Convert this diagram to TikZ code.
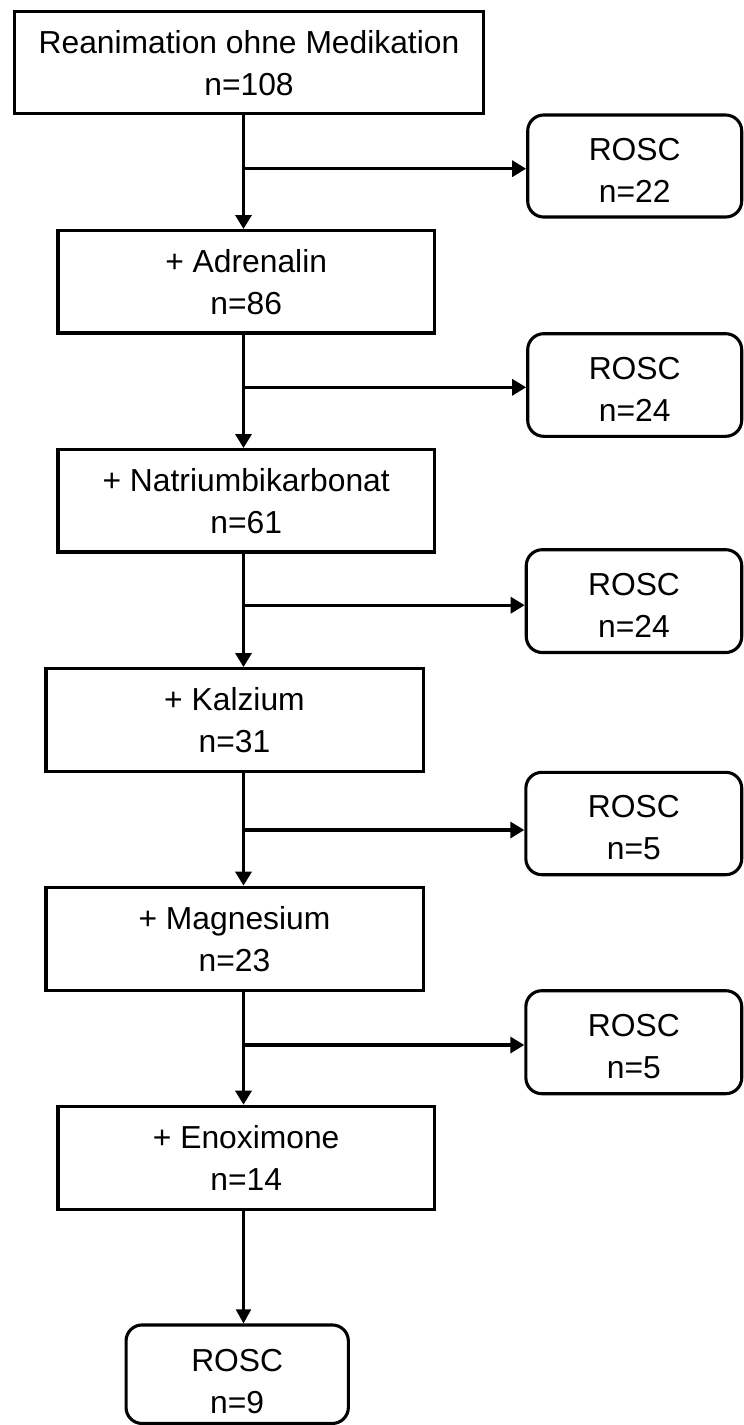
\documentclass[tikz,border=0pt]{standalone}
\usepackage{fontspec}
\setmainfont{Liberation Sans}
\usetikzlibrary{arrows.meta}
\begin{document}
\begin{tikzpicture}[x=1pt,y=-1pt,
  box/.style={font=\fontsize{31.8}{42}\selectfont, align=center, inner sep=0pt, draw, line width=3.3pt},
  stagebox/.style={box, rectangle},
  roscbox/.style={box, line width=3.1pt, rounded corners=16pt, text height=73pt},
  flow/.style={line width=3.3pt, -{Triangle[length=14pt,width=16pt]}},
  thinflow/.style={line width=2.1pt, -{Triangle[length=14pt,width=15pt]}}
]
\useasboundingbox (0,0) rectangle (744,1425);
% main column
\node[stagebox, minimum width=469pt, minimum height=102pt] (s0) at (249,62.7) {Reanimation ohne Medikation\\n=108};
\node[stagebox, minimum width=376.3pt, minimum height=102.3pt] (s1) at (246.2,281.8) {+ Adrenalin\\n=86};
\node[stagebox, minimum width=376.3pt, minimum height=102.3pt] (s2) at (246.2,500.8) {+ Natriumbikarbonat\\n=61};
\node[stagebox, minimum width=377.3pt, minimum height=102.6pt] (s3) at (234.5,720) {+ Kalzium\\n=31};
\node[stagebox, minimum width=377.3pt, minimum height=103.4pt] (s4) at (234.5,939) {+ Magnesium\\n=23};
\node[stagebox, minimum width=376.3pt, minimum height=102.9pt] (s5) at (246.2,1157.8) {+ Enoximone\\n=14};
% ROSC boxes
\node[roscbox, minimum width=214pt, minimum height=102pt] (r0) at (634.7,166) {ROSC\\n=22};
\node[roscbox, minimum width=214pt, minimum height=102.6pt] (r1) at (634.7,385) {ROSC\\n=24};
\node[roscbox, minimum width=215.5pt, minimum height=102.8pt] (r2) at (634,601.1) {ROSC\\n=24};
\node[roscbox, minimum width=215.9pt, minimum height=102.4pt] (r3) at (633.8,823.5) {ROSC\\n=5};
\node[roscbox, minimum width=215.9pt, minimum height=103pt] (r4) at (633.8,1042.2) {ROSC\\n=5};
\node[roscbox, text height=79pt, minimum width=222.3pt, minimum height=98.5pt] (r5) at (237.2,1374.2) {ROSC\\n=9};
% axis and junctions
\coordinate (ax) at (243.5,0);
\coordinate (j0) at (243.5,168.7);
\coordinate (j1) at (243.5,387.3);
\coordinate (j2) at (243.5,605.2);
\coordinate (j3) at (243.5,830);
\coordinate (j4) at (243.5,1045);
% vertical arrows
\draw[flow] (s0.south -| ax) -- (s1.north -| ax);
\draw[flow] (s1.south -| ax) -- (s2.north -| ax);
\draw[flow] (s2.south -| ax) -- (s3.north -| ax);
\draw[flow] (s3.south -| ax) -- (s4.north -| ax);
\draw[flow] (s4.south -| ax) -- (s5.north -| ax);
\draw[thinflow] (s5.south -| ax) -- (r5.north -| ax);
% horizontal arrows
\draw[flow] (j0) -- (j0 -| r0.west);
\draw[flow] (j1) -- (j1 -| r1.west);
\draw[flow] (j2) -- (j2 -| r2.west);
\draw[flow] (j3) -- (j3 -| r3.west);
\draw[flow] (j4) -- (j4 -| r4.west);
\end{tikzpicture}
\end{document}
